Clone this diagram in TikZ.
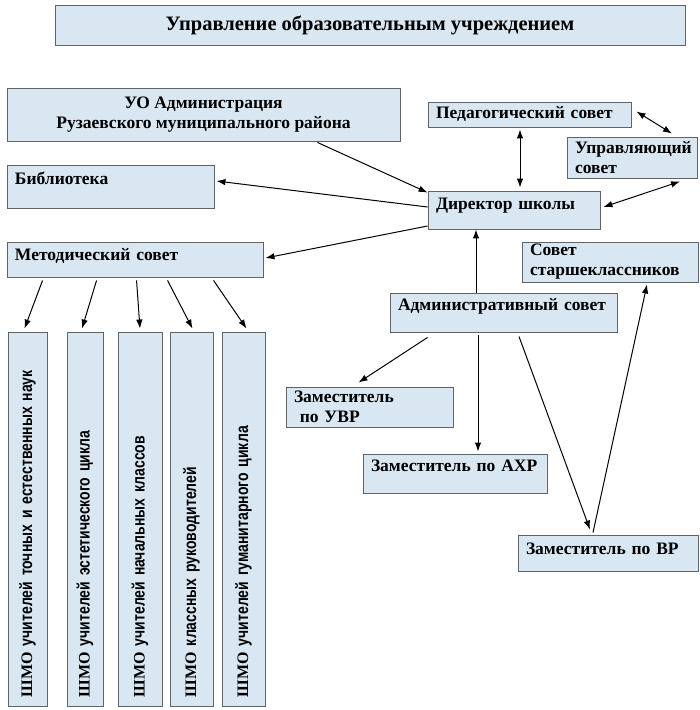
\documentclass[tikz,border=0pt]{standalone}
\usepackage{fontspec}
\setmainfont{Liberation Serif}
\newfontfamily\narrowsans[FakeStretch=0.8]{Liberation Sans Bold}
\usetikzlibrary{calc, arrows.meta}
\definecolor{boxblue}{RGB}{217,231,242}
\definecolor{boxline}{RGB}{95,100,105}

\begin{document}
\begin{tikzpicture}[x=1pt, y=-1pt,
    box/.style={rectangle, draw=boxline, fill=boxblue, line width=0.9pt, inner xsep=8pt, inner ysep=0pt,
        font=\bfseries\fontsize{17.5}{20}\selectfont},
    up/.style={text depth=#1},
    shmo/.style={box, rotate=90, minimum width=374pt, text width=356pt, align=left,
        font=\fontsize{17.5}{20}\selectfont},
    arr/.style={-{Latex[length=9pt,width=6.5pt]}, line width=1pt},
    both/.style={{Latex[length=9pt,width=6.5pt]}-{Latex[length=9pt,width=6.5pt]}, line width=1pt}]
    \useasboundingbox (0,0) rectangle (700,710);

    \draw (370,25) node[box, minimum width=630pt, minimum height=40pt,
        font=\bfseries\fontsize{20.5}{22}\selectfont](head){Управление образовательным учреждением};

    % left column
    \draw (203.5,114.5) node[box, minimum width=393pt, minimum height=53pt, align=center](uo)
        {УО Администрация\\ Рузаевского муниципального района};
    \draw (110.5,186.5) node[box, minimum width=207pt, minimum height=43pt, text width=191pt, align=left, up=17pt](lib){Библиотека};
    \draw (135,259.5) node[box, minimum width=256pt, minimum height=35pt, text width=240pt, align=left, up=11pt](met){Методический совет};

    % right column
    \draw (529.5,114.5) node[box, minimum width=203pt, minimum height=25pt, text width=187pt, align=left, up=5pt](ped){Педагогический совет};
    \draw (632,157.5) node[box, minimum width=130pt, minimum height=41pt, text width=114pt, align=left](upr){Управляющий\\ совет};
    \draw (514,210) node[box, minimum width=172pt, minimum height=38pt, text width=156pt, align=left, up=12pt](dir){Директор школы};
    \draw (610,262) node[box, minimum width=176pt, minimum height=40pt, text width=160pt, align=left](sov){Совет\\ старшеклассников};
    \draw (503.5,312.5) node[box, minimum width=227pt, minimum height=39pt, text width=211pt, align=left, up=17pt](adm){Административный совет};
    \draw (369.5,407) node[box, minimum width=167pt, minimum height=40pt, text width=151pt, align=left](uvr){Заместитель\\ \ по УВР};
    \draw (455,473.5) node[box, minimum width=184pt, minimum height=39pt, text width=168pt, align=left, up=15pt](ahr){Заместитель по АХР};
    \draw (608,553) node[box, minimum width=180pt, minimum height=36pt, text width=164pt, align=left, up=8pt](vr){Заместитель по ВР};

    % ШМО
    \draw (27.5,519) node[shmo, minimum height=39pt](s1){{\bfseries\fontsize{16}{20}\selectfont ШМО} {\narrowsans учителей точных и естественных наук}};
    \draw (85,519) node[shmo, minimum height=36pt](s2){{\bfseries\fontsize{16}{20}\selectfont ШМО} {\narrowsans учителей эстетического цикла}};
    \draw (140,519) node[shmo, minimum height=44pt](s3){{\bfseries\fontsize{16}{20}\selectfont ШМО} {\narrowsans учителей начальных классов}};
    \draw (191.5,519) node[shmo, minimum height=43pt](s4){{\bfseries\fontsize{16}{20}\selectfont ШМО} {\narrowsans классных руководителей}};
    \draw (243.5,519) node[shmo, minimum height=43pt](s5){{\bfseries\fontsize{16}{20}\selectfont ШМО} {\narrowsans учителей гуманитарного цикла}};

    \begin{scope}[arr]
        \path ([xshift=-83pt,yshift=-1pt]uo.south east) edge ([yshift=-2pt]dir.north west);
        \path ([yshift=3pt]dir.west) edge ([xshift=2pt,yshift=5.5pt]lib.east);
        \path ([yshift=-16pt]dir.west) edge ([xshift=2pt,yshift=1.5pt]met.east);
        \path ([xshift=-27.5pt]adm.north) edge ([xshift=-38pt]dir.south);
        \path ([xshift=38pt,yshift=-5pt]adm.south west) edge ([xshift=-11pt,yshift=4pt]uvr.north);
        \path ([xshift=-25.5pt,yshift=-3pt]adm.south) edge ([xshift=23pt,yshift=2pt]ahr.north);
        \path ([xshift=15.5pt,yshift=-4pt]adm.south) edge ([xshift=-18pt,yshift=5pt]vr.north);
        \path ([xshift=-15pt,yshift=2pt]vr.north) edge ([xshift=37pt,yshift=-2pt]sov.south);
    \end{scope}

    \begin{scope}[both]
        \path ([xshift=-9.5pt,yshift=-2pt]ped.south) edge ([xshift=6pt,yshift=3pt]dir.north);
        \path ([xshift=5pt,yshift=3pt]ped.east) edge ([xshift=40pt,yshift=3pt]upr.north);
        \path ([xshift=3pt,yshift=3pt]dir.east) edge ([xshift=48pt,yshift=-3pt]upr.south);
    \end{scope}

    % от методического совета к ШМО
    \begin{scope}[arr]
        \path ([xshift=36pt,yshift=-3pt]met.south west) edge ([xshift=-3pt,yshift=3pt]s1.east);
        \path ([xshift=90pt,yshift=-3pt]met.south west) edge ([xshift=-3pt,yshift=3pt]s2.east);
        \path ([xshift=130pt,yshift=-3pt]met.south west) edge ([yshift=3pt]s3.east);
        \path ([xshift=161pt,yshift=-3pt]met.south west) edge ([xshift=1pt,yshift=3pt]s4.east);
        \path ([xshift=207pt,yshift=-3pt]met.south west) edge ([xshift=3pt,yshift=3pt]s5.east);
    \end{scope}
\end{tikzpicture}
\end{document}
